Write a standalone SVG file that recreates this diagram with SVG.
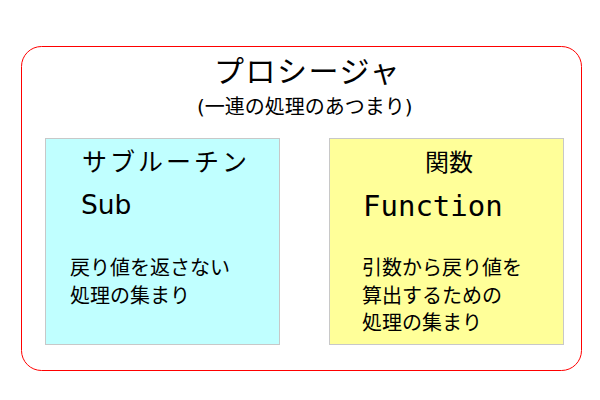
<svg xmlns="http://www.w3.org/2000/svg" width="600" height="400" viewBox="0 0 600 400">
<style>
.jp{font-family:"DejaVu Sans","Noto Sans CJK JP",sans-serif;fill:#000}
.mono{font-family:"DejaVu Sans Mono","Noto Sans CJK JP",monospace;fill:#000}
.box{stroke:#c8c8c8;stroke-width:1}
.body{font-size:20px}
</style>
<rect width="600" height="400" fill="#fff"/>
<g id="procedure">
<rect x="21.5" y="46.5" width="560" height="324" rx="20" ry="20" fill="#fff" stroke="#ff0000" stroke-width="1"/>
<text class="jp" x="214" y="82" font-size="30" letter-spacing="1.5">プロシージャ</text>
<text class="jp" x="197" y="114" font-size="20">(一連の処理のあつまり)</text>
</g>
<g id="sub">
<rect class="box" x="45.5" y="138.5" width="234" height="206" fill="#c0ffff"/>
<text class="jp" x="82" y="171" font-size="25" letter-spacing="3">サブルーチン</text>
<text class="jp" x="81" y="214" font-size="26.5">Sub</text>
<text class="jp body" x="70" y="275">戻り値を返さない</text>
<text class="jp body" x="70" y="303">処理の集まり</text>
</g>
<g id="function">
<rect class="box" x="329.5" y="138.5" width="234" height="206" fill="#ffff99"/>
<text class="jp" x="449" y="171" font-size="24" text-anchor="middle">関数</text>
<text class="mono" x="363" y="216" font-size="29">Function</text>
<text class="jp body" x="362" y="275">引数から戻り値を</text>
<text class="jp body" x="362" y="303">算出するための</text>
<text class="jp body" x="362" y="330">処理の集まり</text>
</g>
<g id="connectors"></g>
</svg>
